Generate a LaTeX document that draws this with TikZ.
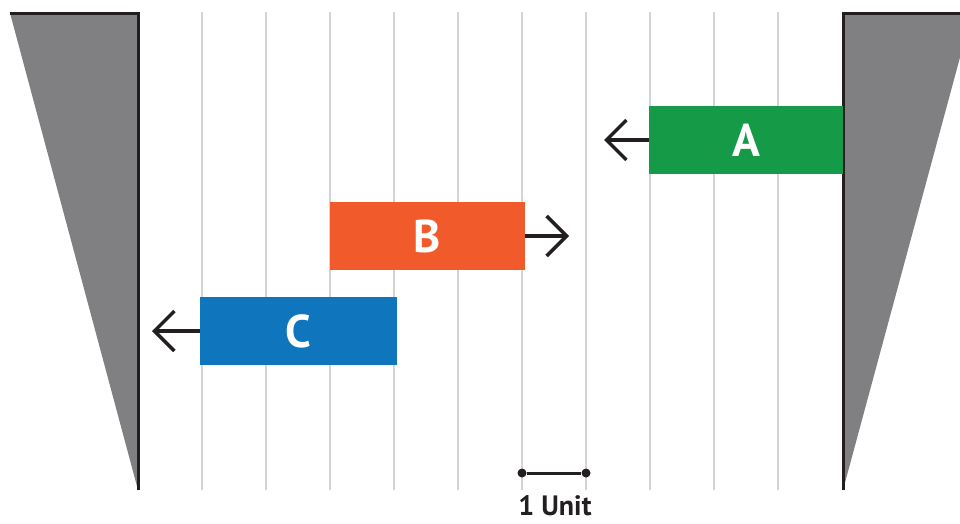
\documentclass[tikz,border=0pt]{standalone}
\usepackage{fontspec}
\setmainfont{PT Sans}
\usetikzlibrary{arrows.meta}
\definecolor{wallgray}{HTML}{808083}
\definecolor{gridgray}{HTML}{D4D4D4}
\definecolor{inkblack}{HTML}{231F20}
\definecolor{boxgreen}{HTML}{159A48}
\definecolor{boxorange}{HTML}{F15A2B}
\definecolor{boxblue}{HTML}{0F75BC}
\tikzset{
  wall/.style={draw=inkblack, line width=3pt},
  gridline/.style={draw=gridgray, line width=1.2pt},
  block/.style={rectangle, inner sep=0pt, minimum height=68pt, minimum width=195pt, text=white, font=\fontsize{46}{46}\selectfont\bfseries},
  move/.style={draw=inkblack, line width=3.5pt, -{Straight Barb[length=20pt,width=40pt,line width=3.5pt]}},
  dot/.style={circle, fill=inkblack, inner sep=0pt, minimum size=9pt}
}
\begin{document}
\begin{tikzpicture}[x=1pt,y=-1pt]
\useasboundingbox (0,0) rectangle (960,523);
\clip (0,0) rectangle (960,523);
% grid lines
\foreach \k in {1,...,10} {
  \draw[gridline] (138+64*\k,12) -- (138+64*\k,490);
}
% walls
\fill[wallgray] (10,13) -- (138,13) -- (138,490) -- cycle;
\fill[wallgray] (843,13) -- (972,13) -- (843,490) -- cycle;
\draw[wall] (10,13) -- (138,13) -- (138,490);
\draw[wall] (960,13) -- (843,13) -- (843,490);
% blocks
\node[block, fill=boxgreen, minimum width=194pt] (A) at (746,140) {A};
\node[block, fill=boxorange] (B) at (427.5,236) {B};
\node[block, fill=boxblue, minimum width=197pt] (C) at (298.5,331) {C};
% arrow ends
\coordinate (Aend) at (604,140);
\coordinate (Bend) at (569,236);
\coordinate (Cend) at (152,331);
\draw[move] (A.west) -- (Aend);
\draw[move] (B.east) -- (Bend);
\draw[move] (C.west) -- (Cend);
% scale bar
\node[dot] (u1) at (522,473) {};
\node[dot] (u2) at (586,473) {};
\draw[inkblack, line width=3pt] (u1) -- (u2);
\node[font=\fontsize{28}{28}\selectfont\bfseries, text=inkblack, inner sep=0pt, anchor=base] (unit) at (555,515) {1 Unit};
\end{tikzpicture}
\end{document}
